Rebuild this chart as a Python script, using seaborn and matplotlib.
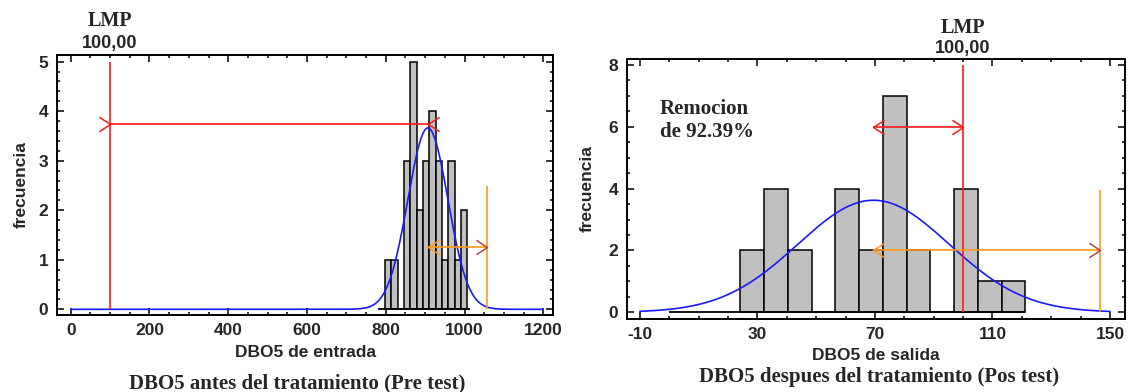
import numpy as np
import pandas as pd
import matplotlib
matplotlib.use("Agg")
import matplotlib.pyplot as plt
from matplotlib.path import Path
from matplotlib.markers import MarkerStyle
from matplotlib.ticker import MultipleLocator, FixedLocator
import seaborn as sns

# ---------------- data : pre test (left) ----------------
pre_bin_start = 798.0
pre_bin_width = 16.08
pre_counts = [1, 1, 0, 3, 5, 2, 3, 4, 3, 1, 3, 1, 2]
pre_base_range = [781.0, 1014.0]
pre_mean = 907.0
pre_sd = 50.8
pre_curve_range = [0.0, 1200.0]
pre_lmp = 100.0
pre_lmp_top = 5.0
pre_red_arrow_y = 3.74
pre_orange_x = 1057.0
pre_orange_top = 2.48
pre_orange_arrow_y = 1.26
pre_xticks = [0, 200, 400, 600, 800, 1000, 1200]
pre_yticks = [0, 1, 2, 3, 4, 5]

# ---------------- data : post test (right) ----------------
post_bin_start = 24.24
post_bin_width = 8.08
post_counts = [2, 4, 2, 0, 4, 2, 7, 2, 0, 4, 1, 1]
post_base_range = [0.0, 121.2]
post_mean = 69.5
post_sd = 25.8
post_curve_range = [-10.0, 150.0]
post_lmp = 100.0
post_lmp_top = 8.0
post_red_arrow_y = 6.0
post_orange_x = 146.5
post_orange_top = 3.95
post_orange_arrow_y = 2.0
post_xticks = [-10, 30, 70, 110, 150]
post_yticks = [0, 2, 4, 6, 8]

lmp_label = "LMP"
lmp_value = "100,00"
removal_text = "Remocion\nde 92.39%"

sns.set_theme(style="white")
plt.rcParams["font.family"] = ["Liberation Sans", "DejaVu Sans"]
SANS = ["Liberation Sans", "DejaVu Sans"]
SERIF = ["Liberation Serif", "DejaVu Serif"]

RED = "#ff1a1a"
ORANGE = "#ff9a1a"
BROWN = "#b04848"
BLUE = "#1a1aff"
GRAY = "#c0c0c0"

chev_right = MarkerStyle(Path([(-1, 0.65), (0, 0), (-1, -0.65)],
                              [Path.MOVETO, Path.LINETO, Path.LINETO]))
chev_left = MarkerStyle(Path([(1, 0.65), (0, 0), (1, -0.65)],
                             [Path.MOVETO, Path.LINETO, Path.LINETO]))


def chevron(ax, x, y, marker, color):
    ax.plot([x], [y], linestyle="none", marker=marker, markersize=16,
            markerfacecolor="none", markeredgecolor=color,
            markeredgewidth=1.1, zorder=6)


def panel(ax, bin_start, bin_width, counts, base_range, mean, sd,
          curve_range, lmp, lmp_top, red_y, orange_x, orange_top, orange_y,
          xticks, yticks, xminor, yminor, xlim, ylim, inward_red):
    counts = np.asarray(counts, dtype=float)
    edges = bin_start + bin_width * np.arange(len(counts) + 1)
    mids = (edges[:-1] + edges[1:]) / 2
    df = pd.DataFrame({"x": mids, "w": counts})
    sns.histplot(data=df, x="x", weights="w", bins=[float(e) for e in edges],
                 ax=ax, color=GRAY, edgecolor="black", linewidth=1.1, alpha=1)
    ax.hlines(0, base_range[0], base_range[1], color="black", lw=1.3, zorder=3)

    # fitted normal curve (scaled to counts)
    xs = np.linspace(curve_range[0], curve_range[1], 600)
    n = counts.sum()
    ys = n * bin_width / (sd * np.sqrt(2 * np.pi)) * np.exp(-0.5 * ((xs - mean) / sd) ** 2)
    sns.lineplot(x=xs, y=ys, ax=ax, color=BLUE, lw=1.2, zorder=4)

    # LMP line and arrow
    ax.vlines(lmp, 0, lmp_top, color=RED, lw=1.2, zorder=5)
    ax.hlines(red_y, min(lmp, mean), max(lmp, mean), color=RED, lw=1.2, zorder=5)
    if inward_red:
        chevron(ax, lmp, red_y, chev_right, RED)
        chevron(ax, mean, red_y, chev_left, RED)
    else:
        chevron(ax, mean, red_y, chev_left, RED)
        chevron(ax, lmp, red_y, chev_right, RED)

    # 3-sigma line and arrow
    ax.vlines(orange_x, 0, orange_top, color=ORANGE, lw=1.2, zorder=5)
    ax.hlines(orange_y, mean, orange_x, color=ORANGE, lw=1.2, zorder=5)
    chevron(ax, mean, orange_y, chev_left, ORANGE)
    chevron(ax, orange_x, orange_y, chev_right, BROWN)

    ax.set_xlim(*xlim)
    ax.set_ylim(*ylim)
    ax.xaxis.set_major_locator(FixedLocator(xticks))
    ax.yaxis.set_major_locator(FixedLocator(yticks))
    ax.xaxis.set_minor_locator(MultipleLocator(xminor))
    ax.yaxis.set_minor_locator(MultipleLocator(yminor))
    ax.set_xticklabels([str(t) for t in xticks])
    ax.set_yticklabels([str(t) for t in yticks])
    ax.tick_params(which="both", direction="in", top=True, right=True,
                   bottom=True, left=True, color="black", width=1.1)
    ax.tick_params(which="major", length=5, pad=6, labelsize=12.5)
    ax.tick_params(which="minor", length=2.5)
    for lab in ax.get_xticklabels() + ax.get_yticklabels():
        lab.set_fontweight("bold")
        lab.set_family(SANS)
    for s in ax.spines.values():
        s.set_visible(True)
        s.set_color("black")
        s.set_linewidth(1.4)
    ax.grid(False)

    tr = ax.get_xaxis_transform()
    return tr


fig = plt.figure(figsize=(11.32, 3.92), dpi=100)
ax1 = fig.add_axes([0.0501, 0.1964, 0.4387, 0.6633])
ax2 = fig.add_axes([0.5536, 0.1862, 0.4402, 0.6633])

tr1 = panel(ax1, pre_bin_start, pre_bin_width, pre_counts, pre_base_range,
            pre_mean, pre_sd, pre_curve_range, pre_lmp, pre_lmp_top,
            pre_red_arrow_y, pre_orange_x, pre_orange_top, pre_orange_arrow_y,
            pre_xticks, pre_yticks, 50, 0.2, (-35.6, 1225.5), (-0.115, 5.135),
            inward_red=True)
tr2 = panel(ax2, post_bin_start, post_bin_width, post_counts, post_base_range,
            post_mean, post_sd, post_curve_range, post_lmp, post_lmp_top,
            post_red_arrow_y, post_orange_x, post_orange_top, post_orange_arrow_y,
            post_xticks, post_yticks, 10, 0.5, (-14.5, 155.1), (-0.217, 8.19),
            inward_red=False)

for ax, tr, lmp, y1, y2 in [(ax1, tr1, pre_lmp, 1.132, 1.045),
                            (ax2, tr2, post_lmp, 1.119, 1.042)]:
    ax.text(lmp, y1, lmp_label, transform=tr, ha="center", va="center",
            fontsize=14.5, fontweight="bold", family=SERIF, clip_on=False)
    ax.text(lmp, y2, lmp_value, transform=tr, ha="center", va="center",
            fontsize=13, fontweight="bold", family=SANS, clip_on=False)

ax1.set_xlabel("DBO5 de entrada", fontsize=12.5, fontweight="bold", family=SANS, labelpad=4.5)
ax2.set_xlabel("DBO5 de salida", fontsize=12.5, fontweight="bold", family=SANS, labelpad=4)
ax1.set_ylabel("frecuencia", fontsize=12.5, fontweight="bold", family=SANS, labelpad=7)
ax2.set_ylabel("frecuencia", fontsize=12.5, fontweight="bold", family=SANS, labelpad=10)

ax2.text(-3.2, 6.2, removal_text, ha="left", va="center", fontsize=15,
         fontweight="bold", family=SERIF, linespacing=1.15, zorder=7)

fig.text(297 / 1132, 1 - 383 / 392, "DBO5 antes del tratamiento (Pre test)",
         ha="center", va="center", fontsize=15, fontweight="bold", family=SERIF)
fig.text(879 / 1132, 1 - 377 / 392, "DBO5 despues del tratamiento (Pos test)",
         ha="center", va="center", fontsize=15, fontweight="bold", family=SERIF)

fig.savefig("out.png", dpi=100, facecolor="white")
